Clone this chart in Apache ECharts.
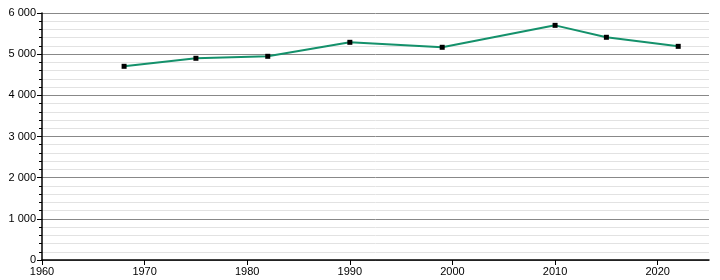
<!DOCTYPE html>
<html><head><meta charset="utf-8">
<script src="https://cdn.jsdelivr.net/npm/echarts@6/dist/echarts.min.js"></script>
<style>html,body{margin:0;padding:0;background:#fff}#c{width:720px;height:280px}</style>
</head><body><div id="c"></div>
<script>
const years = [1968, 1975, 1982, 1990, 1999, 2010, 2015, 2022];
const population = [4705, 4900, 4948, 5288, 5167, 5700, 5410, 5190];
const yTicks = [0, 1000, 2000, 3000, 4000, 5000, 6000];
const xTicks = [1960, 1970, 1980, 1990, 2000, 2010, 2020];

const chart = echarts.init(document.getElementById('c'), null, {renderer:'canvas'});
chart.setOption({
  animation:false,
  grid:{left:42, top:13, right:11, bottom:20, containLabel:false},
  xAxis:{type:'value', min:1960, max:2025, interval:10,
    axisLine:{show:true, lineStyle:{color:'#000', width:1.5}},
    axisTick:{show:true, length:5, lineStyle:{color:'#000'}},
    axisLabel:{color:'#000', fontFamily:'Liberation Sans, Arial, sans-serif', fontSize:11, margin:6,
      showMaxLabel:false, formatter:v => String(v)},
    splitLine:{show:false}},
  yAxis:{type:'value', min:0, max:6000, interval:1000,
    axisLine:{show:true, lineStyle:{color:'#000', width:1.5}},
    axisTick:{show:true, length:5, lineStyle:{color:'#000'}},
    minorTick:{show:true, splitNumber:5, length:3, lineStyle:{color:'#000'}},
    axisLabel:{color:'#000', fontFamily:'Liberation Sans, Arial, sans-serif', fontSize:11, margin:6,
      formatter:v => v === 0 ? '0' : (Math.floor(v/1000) + ' ' + String(v%1000).padStart(3,'0'))},
    splitLine:{show:true, lineStyle:{color:'#888', width:1}},
    minorSplitLine:{show:true, lineStyle:{color:'#e2e2e2', width:1}}},
  series:[{type:'line', data:years.map((y,i)=>[y, population[i]]),
    lineStyle:{color:'#14916b', width:2},
    symbol:'rect', symbolSize:5, itemStyle:{color:'#000'}, z:3}]
});
</script></body></html>
